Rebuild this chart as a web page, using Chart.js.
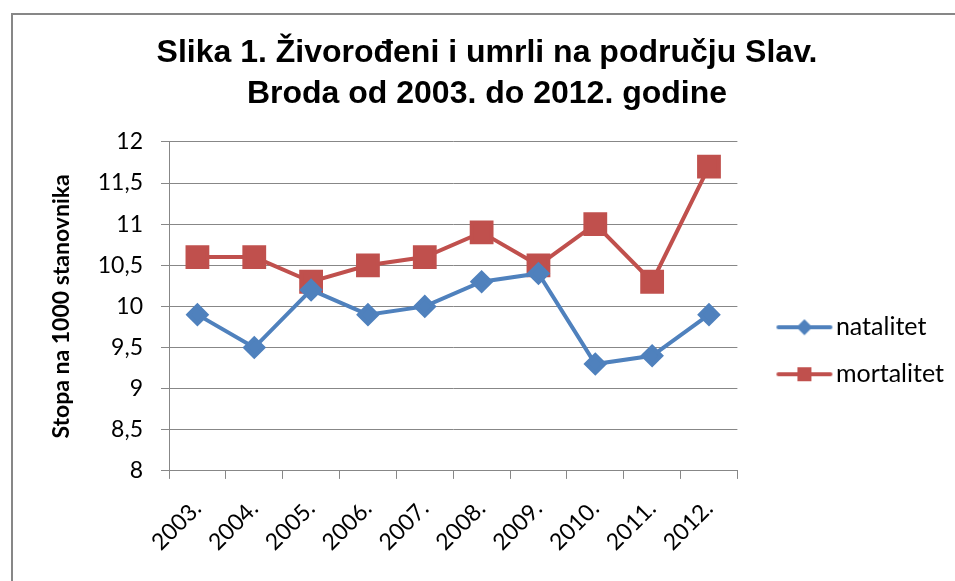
<!DOCTYPE html>
<html>
<head>
<meta charset="utf-8">
<script src="https://cdn.jsdelivr.net/npm/chart.js@4.4.1/dist/chart.umd.min.js"></script>
<style>
  body { margin: 0; background: #fff; overflow: hidden; }
  #frame { position: absolute; left: 11px; top: 13px; width: 1000px; height: 620px; border: 2px solid #878787; box-sizing: border-box; }
  #wrap { position: absolute; left: 0; top: 0; width: 955px; height: 581px; }
</style>
</head>
<body>
<div id="frame"></div>
<div id="wrap"><canvas id="chart" width="955" height="581"></canvas></div>
<script>
    // Data
    const years = ["2003.", "2004.", "2005.", "2006.", "2007.", "2008.", "2009.", "2010.", "2011.", "2012."];
    const natalitet = [9.9, 9.5, 10.2, 9.9, 10.0, 10.3, 10.4, 9.3, 9.4, 9.9];
    const mortalitet = [10.6, 10.6, 10.3, 10.5, 10.6, 10.9, 10.5, 11.0, 10.3, 11.7];
    const titleLines = ["Slika 1. Živorođeni i umrli na području Slav.", "Broda od 2003. do 2012. godine"];
    const yTitle = "Stopa na 1000 stanovnika";

    const BLUE = "#4F81BD";
    const RED = "#C0504D";
    const GRID = "#878787";
    const FONT = "Lato, 'Open Sans', sans-serif";

    // legend icon: line with marker in the middle (left part of the canvas is empty)
    function legendIcon(color, shape) {
      const c = document.createElement("canvas");
      c.width = 84; c.height = 24;
      const g = c.getContext("2d");
      g.strokeStyle = color; g.lineWidth = 4; g.lineCap = "round";
      g.beginPath(); g.moveTo(29, 12); g.lineTo(81, 12); g.stroke();
      g.fillStyle = color;
      if (shape === "diamond") {
        g.beginPath(); g.moveTo(55, 4); g.lineTo(63, 12); g.lineTo(55, 20); g.lineTo(47, 12); g.closePath(); g.fill();
      } else {
        g.fillRect(48, 5, 14, 14);
      }
      return c;
    }
    const icons = [legendIcon(BLUE, "diamond"), legendIcon(RED, "square")];

    new Chart(document.getElementById("chart"), {
      type: "line",
      data: {
        labels: years,
        datasets: [
          {
            label: "natalitet", data: natalitet,
            borderColor: BLUE, backgroundColor: BLUE, borderWidth: 4,
            pointStyle: "rectRot", pointRadius: 9, pointHoverRadius: 9,
          },
          {
            label: "mortalitet", data: mortalitet,
            borderColor: RED, backgroundColor: RED, borderWidth: 4,
            pointStyle: "rect", pointRadius: 14, pointHoverRadius: 14,
          },
        ],
      },
      options: {
        responsive: false,
        animation: false,
        layout: { padding: { left: 20, right: 1, top: 0, bottom: 9 } },
        plugins: {
          title: {
            display: true, text: titleLines, color: "#000",
            font: { family: "'Liberation Sans', Arial, sans-serif", size: 32, weight: "bold", lineHeight: 1.28 },
            padding: { top: 33, bottom: 27 },
          },
          legend: {
            position: "right",
            title: { display: true, text: "", padding: { top: 0, bottom: 115 } },
            labels: {
              usePointStyle: true, pointStyleWidth: 64, color: "#000", padding: 22,
              font: { family: FONT, size: 25 },
              generateLabels: (chart) => chart.data.datasets.map((ds, i) => ({
                text: ds.label, pointStyle: icons[i], fontColor: "#000",
                fillStyle: ds.borderColor, strokeStyle: ds.borderColor, lineWidth: 0, datasetIndex: i,
              })),
            },
          },
          tooltip: { enabled: false },
        },
        scales: {
          x: {
            offset: true,
            grid: { display: true, drawOnChartArea: false, drawTicks: true, tickLength: 8, color: GRID, offset: true },
            border: { color: GRID, width: 1 },
            ticks: { color: "#000", font: { family: FONT, size: 23 }, minRotation: 45, maxRotation: 45, padding: 16 },
          },
          y: {
            min: 8, max: 12,
            afterFit: (s) => { s.width = 149; },
            grid: { color: GRID, tickLength: 8 },
            border: { color: GRID, width: 1 },
            ticks: {
              stepSize: 0.5, color: "#000", padding: 18,
              font: { family: FONT, size: 23 },
              callback: (v) => String(v).replace(".", ","),
            },
            title: {
              display: true, text: yTitle, color: "#000",
              font: { family: FONT, size: 23, weight: "bold" }, padding: { top: 28, bottom: 0 },
            },
          },
        },
      },
    });
</script>
</body>
</html>
